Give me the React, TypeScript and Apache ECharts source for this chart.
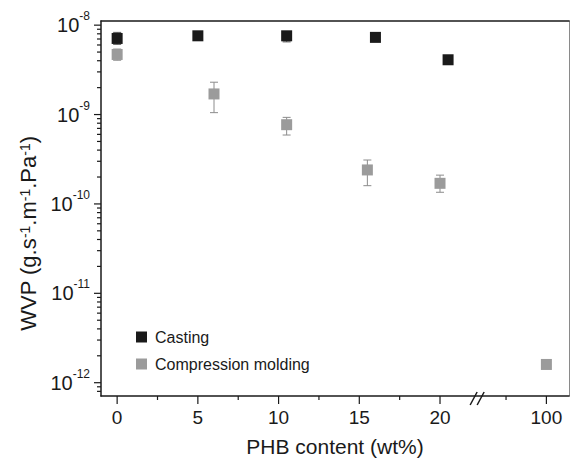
import React, { useEffect, useRef } from 'react';
import * as echarts from 'echarts';

const FONT = '"Liberation Sans", Arial, Helvetica, sans-serif';
const INK = '#1a1a1a';
const GRAY = '#9b9b9b';

// Casting (black squares)
const castingX = [0, 5, 10.5, 16, 20.5];
const castingWVP = [7.1e-9, 7.6e-9, 7.6e-9, 7.3e-9, 4.1e-9];
const castingLow = [6.1e-9, 7.2e-9, 6.5e-9, 7.0e-9, 3.9e-9];
const castingHigh = [8.3e-9, 8.0e-9, 8.2e-9, 7.6e-9, 4.3e-9];

// Compression molding (grey squares)
const moldingX = [0, 6, 10.5, 15.5, 20, 100];
const moldingWVP = [4.7e-9, 1.7e-9, 7.7e-10, 2.4e-10, 1.7e-10, 1.6e-12];
const moldingLow = [4.05e-9, 1.05e-9, 5.9e-10, 1.6e-10, 1.35e-10, 1.55e-12];
const moldingHigh = [5.4e-9, 2.3e-9, 9.3e-10, 3.1e-10, 2.1e-10, 1.65e-12];

// axis ticks and tick labels
const xMajorTicks = [0, 5, 10, 15, 20, 100];
const xTickLabels = ['0', '5', '10', '15', '20', '100'];
const xMinorTicks = [2.5, 7.5, 12.5, 17.5, 97.5];
const yDecadeExponents = [-13, -12, -11, -10, -9, -8];
const yMinorFactors = [2, 3, 4, 5, 6, 7, 8, 9];

const X_MIN = -1;
const X_MAX = 101.4;
const BREAK_START = 22.5;
const BREAK_END = 97.5;
const BREAK_GAP = 1.59;
const BREAK_MARK_X = 22.3;
const Y_MIN = 7.1e-13;
const Y_MAX = 1.113e-8;

export default function App() {
  const ref = useRef<HTMLDivElement>(null);
  useEffect(() => {
    const chart = echarts.init(ref.current!, undefined, { renderer: 'svg' });

    const yTicks: number[][] = [];
    yDecadeExponents.forEach((n) => {
      const major = Math.pow(10, n);
      if (major >= Y_MIN && major <= Y_MAX) yTicks.push([X_MIN, major, 1]);
      yMinorFactors.forEach((k) => {
        const v = k * Math.pow(10, n);
        if (v >= Y_MIN && v <= Y_MAX) yTicks.push([X_MIN, v, 0]);
      });
    });
    const xTicks: any[] = [
      ...xMajorTicks.map((v, i) => [v, Y_MIN, 1, xTickLabels[i]]),
      ...xMinorTicks.map((v) => [v, Y_MIN, 0, '']),
    ];

    const errData = (xs: number[], lo: number[], hi: number[]) =>
      xs.map((x, i) => [x, lo[i], hi[i]]);

    const errRender = (color: string) => (params: any, api: any) => {
      const x = api.value(0);
      const pLo = api.coord([x, api.value(1)]);
      const pHi = api.coord([x, api.value(2)]);
      const hw = 4;
      const style = { stroke: color, lineWidth: 1 };
      return {
        type: 'group',
        children: [
          { type: 'line', shape: { x1: pLo[0], y1: pLo[1], x2: pHi[0], y2: pHi[1] }, style },
          { type: 'line', shape: { x1: pLo[0] - hw, y1: pLo[1], x2: pLo[0] + hw, y2: pLo[1] }, style },
          { type: 'line', shape: { x1: pHi[0] - hw, y1: pHi[1], x2: pHi[0] + hw, y2: pHi[1] }, style },
        ],
      };
    };

    const supRich = (base: number, sup: number, lh: number, slh: number) => ({
      b: { fontSize: base, fontFamily: FONT, color: INK, lineHeight: lh },
      s: { fontSize: sup, fontFamily: FONT, color: INK, lineHeight: slh, verticalAlign: 'top' },
    });

    const frameAxis = (pos: string, color: string, width: number) => ({
      type: 'value',
      position: pos,
      min: 0,
      max: 1,
      axisLine: { show: true, onZero: false, lineStyle: { color, width } },
      axisTick: { show: false },
      axisLabel: { show: false },
      splitLine: { show: false },
    });

    chart.setOption({
      animation: false,
      backgroundColor: '#ffffff',
      grid: { left: 101, top: 21, right: 1, bottom: 66, containLabel: false },
      legend: {
        data: ['Casting', 'Compression molding'],
        orient: 'vertical',
        left: 131,
        top: 323,
        itemWidth: 11,
        itemHeight: 11,
        itemGap: 9,
        icon: 'rect',
        textStyle: { fontFamily: FONT, fontSize: 16, color: INK, lineHeight: 18, padding: [0, 0, 0, 3] },
      },
      xAxis: [
        {
          type: 'value',
          min: X_MIN,
          max: X_MAX,
          breaks: [{ start: BREAK_START, end: BREAK_END, gap: BREAK_GAP }],
          breakArea: { show: false },
          axisLine: { show: false, onZero: false },
          axisTick: { show: false },
          splitLine: { show: false },
          axisLabel: { show: false },
          name: 'PHB content (wt%)',
          nameLocation: 'middle',
          nameGap: 40,
          nameTextStyle: { fontFamily: FONT, fontSize: 21, color: INK },
        },
        frameAxis('top', INK, 1.5),
        frameAxis('bottom', INK, 1.5),
      ],
      yAxis: [
        {
          type: 'log',
          logBase: 10,
          min: Y_MIN,
          max: Y_MAX,
          axisLine: { show: true, onZero: false, lineStyle: { color: INK, width: 1.5 } },
          axisTick: { show: false },
          splitLine: { show: false },
          minorTick: { show: false },
          axisLabel: {
            margin: 11,
            showMinLabel: false,
            showMaxLabel: false,
            formatter: (v: number) => `{b|10}{s|${Math.round(Math.log10(v))}}`,
            rich: supRich(20, 12, 30, 14),
          },
          name: 'WVP (g.s{s|-1}.m{s|-1}.Pa{s|-1})',
          nameLocation: 'middle',
          nameRotate: 90,
          nameGap: 61,
          nameTextStyle: {
            fontFamily: FONT,
            fontSize: 22,
            color: INK,
            padding: [0, 50, 0, 0],
            rich: supRich(22, 14, 30, 14),
          },
        },
        frameAxis('right', '#8a8a8a', 1),
      ],
      series: [
        {
          type: 'custom',
          name: 'yTicks',
          silent: true,
          clip: false,
          data: yTicks,
          renderItem: (params: any, api: any) => {
            const p = api.coord([api.value(0), api.value(1)]);
            const x0 = params.coordSys.x;
            const len = api.value(2) ? 7 : 4;
            return {
              type: 'line',
              shape: { x1: x0 - len, y1: p[1], x2: x0, y2: p[1] },
              style: { stroke: INK, lineWidth: 1.2 },
            };
          },
        },
        {
          type: 'custom',
          name: 'xTicks',
          silent: true,
          clip: false,
          dimensions: ['x', 'y', 'major', { name: 'label', type: 'ordinal' }],
          data: xTicks,
          renderItem: (params: any, api: any) => {
            const idx = params.dataIndex;
            const item = xTicks[idx];
            const p = api.coord([item[0], item[1]]);
            const y0 = params.coordSys.y + params.coordSys.height;
            const len = item[2] ? 8 : 4;
            const children: any[] = [
              {
                type: 'line',
                shape: { x1: p[0], y1: y0, x2: p[0], y2: y0 + len },
                style: { stroke: INK, lineWidth: 1.2 },
              },
            ];
            if (item[3]) {
              children.push({
                type: 'text',
                x: p[0],
                y: y0 + 21,
                style: {
                  text: item[3],
                  fontFamily: FONT,
                  fontSize: 19,
                  fill: INK,
                  align: 'center',
                  verticalAlign: 'middle',
                },
              });
            }
            return { type: 'group', children };
          },
        },
        {
          type: 'custom',
          name: 'breakMark',
          silent: true,
          clip: false,
          z: 4,
          data: [[BREAK_MARK_X, Y_MIN]],
          renderItem: (params: any, api: any) => {
            const p = api.coord([api.value(0), api.value(1)]);
            const cy = params.coordSys.y + params.coordSys.height;
            const cx = p[0];
            const style = { stroke: INK, lineWidth: 1.5 };
            return {
              type: 'group',
              children: [
                { type: 'line', shape: { x1: cx - 7, y1: cy + 9, x2: cx, y2: cy - 4 }, style },
                { type: 'line', shape: { x1: cx, y1: cy + 9, x2: cx + 7, y2: cy - 4 }, style },
              ],
            };
          },
        },
        {
          type: 'custom',
          name: 'castingErr',
          silent: true,
          clip: false,
          z: 1,
          data: errData(castingX, castingLow, castingHigh),
          renderItem: errRender('#555555'),
        },
        {
          type: 'custom',
          name: 'moldingErr',
          silent: true,
          clip: false,
          z: 1,
          data: errData(moldingX, moldingLow, moldingHigh),
          renderItem: errRender('#8c8c8c'),
        },
        {
          type: 'scatter',
          name: 'Casting',
          symbol: 'rect',
          symbolSize: 11,
          z: 3,
          itemStyle: { color: INK, opacity: 1 },
          data: castingX.map((x, i) => [x, castingWVP[i]]),
        },
        {
          type: 'scatter',
          name: 'Compression molding',
          symbol: 'rect',
          symbolSize: 11,
          z: 3,
          itemStyle: { color: GRAY, opacity: 1 },
          data: moldingX.map((x, i) => [x, moldingWVP[i]]),
        },
      ],
    });
    return () => chart.dispose();
  }, []);
  return <div ref={ref} style={{ position: 'fixed', left: 0, top: 0, width: 570, height: 462 }} />;
}
